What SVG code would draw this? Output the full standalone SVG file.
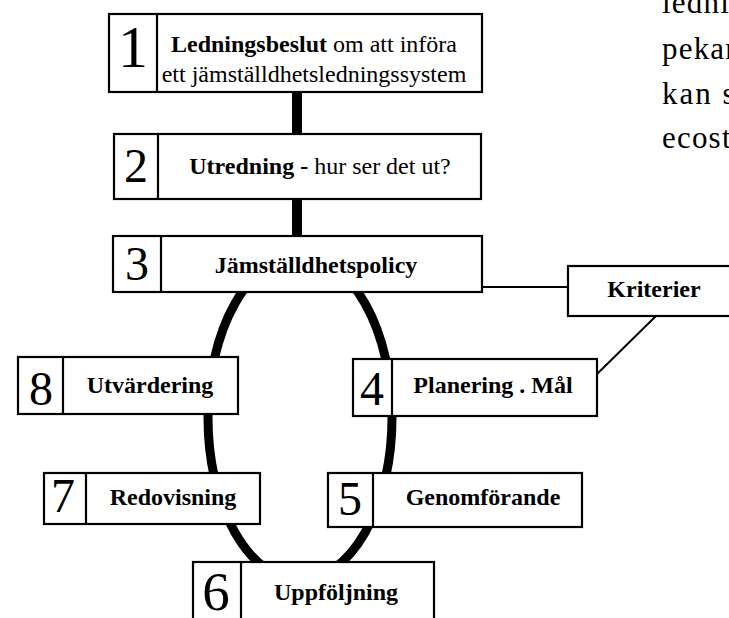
<svg xmlns="http://www.w3.org/2000/svg" width="729" height="618" viewBox="0 0 729 618">
<style>
.box{fill:#fff;stroke:#000;stroke-width:2.2}
.div{stroke:#000;stroke-width:2.2}
.num{font-family:"Liberation Serif","Times New Roman",serif;font-size:48px;text-anchor:middle;fill:#000}
.lbl{font-family:"Liberation Serif","Times New Roman",serif;font-size:24px;font-weight:bold;text-anchor:middle;fill:#000}
.reg{font-weight:normal}
.side{font-family:"Liberation Serif","Times New Roman",serif;font-size:31px;letter-spacing:1.2px;fill:#000}
.thin{stroke:#000;stroke-width:2;fill:none}
</style>
<rect width="729" height="618" fill="#fff"/>
<g id="side-text">
<text class="side" x="662" y="13">lednin</text>
<text class="side" x="662" y="59">pekar</text>
<text class="side" x="662" y="104" style="letter-spacing:2px">kan s</text>
<text class="side" x="662" y="148">ecost</text>
</g>
<g id="connectors">
<rect x="292" y="92" width="10" height="42" fill="#000"/>
<rect x="292" y="199" width="10" height="37" fill="#000"/>
<ellipse cx="300" cy="418" rx="92" ry="162" fill="none" stroke="#000" stroke-width="9"/>
<line class="thin" x1="482" y1="287" x2="568" y2="287"/>
<line class="thin" x1="656" y1="316" x2="597" y2="374"/>
</g>
<g id="n1">
<rect class="box" x="109" y="14" width="373" height="78"/>
<line class="div" x1="157" y1="14" x2="157" y2="92"/>
<text class="num" x="133" y="67" style="font-size:60px">1</text>
<text class="lbl" x="314" y="52">Ledningsbeslut<tspan class="reg"> om att införa</tspan></text>
<text class="lbl reg" x="314" y="82">ett jämställdhetsledningssystem</text>
</g>
<g id="n2">
<rect class="box" x="114" y="134" width="367" height="65"/>
<line class="div" x1="158" y1="134" x2="158" y2="199"/>
<text class="num" x="136" y="182">2</text>
<text class="lbl" x="320" y="174">Utredning -<tspan class="reg"> hur ser det ut?</tspan></text>
</g>
<g id="n3">
<rect class="box" x="113" y="236" width="369" height="56"/>
<line class="div" x1="161" y1="236" x2="161" y2="292"/>
<text class="num" x="137" y="280">3</text>
<text class="lbl" x="316" y="273">Jämställdhetspolicy</text>
</g>
<g id="kriterier">
<rect class="box" x="568" y="266" width="172" height="50"/>
<text class="lbl" x="654" y="297">Kriterier</text>
</g>
<g id="n4">
<rect class="box" x="353" y="359" width="244" height="57"/>
<line class="div" x1="392" y1="359" x2="392" y2="416"/>
<text class="num" x="372" y="405">4</text>
<text class="lbl" x="493" y="393">Planering . Mål</text>
</g>
<g id="n8">
<rect class="box" x="18" y="357" width="220" height="57"/>
<line class="div" x1="63" y1="357" x2="63" y2="414"/>
<text class="num" x="41" y="405">8</text>
<text class="lbl" x="150" y="393">Utvärdering</text>
</g>
<g id="n7">
<rect class="box" x="44" y="473" width="216" height="51"/>
<line class="div" x1="86" y1="473" x2="86" y2="524"/>
<text class="num" x="63" y="512">7</text>
<text class="lbl" x="173" y="505">Redovisning</text>
</g>
<g id="n5">
<rect class="box" x="328" y="473" width="254" height="54"/>
<line class="div" x1="373" y1="473" x2="373" y2="527"/>
<text class="num" x="350" y="515">5</text>
<text class="lbl" x="483" y="505">Genomförande</text>
</g>
<g id="n6">
<rect class="box" x="193" y="562" width="241" height="70"/>
<line class="div" x1="241" y1="562" x2="241" y2="632"/>
<text class="num" x="216" y="610" style="font-size:55px">6</text>
<text class="lbl" x="336" y="600">Uppföljning</text>
</g>
</svg>
